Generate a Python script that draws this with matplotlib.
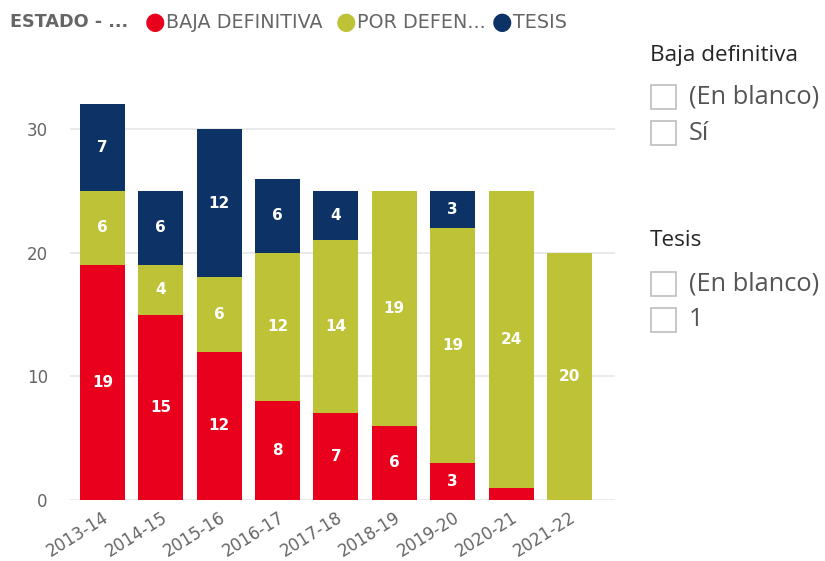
import matplotlib
matplotlib.use("Agg")
import matplotlib.pyplot as plt
from matplotlib.patches import Rectangle

years = ["2013-14", "2014-15", "2015-16", "2016-17", "2017-18", "2018-19", "2019-20", "2020-21", "2021-22"]
baja = [19, 15, 12, 8, 7, 6, 3, 1, 0]
por_defender = [6, 4, 6, 12, 14, 19, 19, 24, 20]
tesis = [7, 6, 12, 6, 4, 0, 3, 0, 0]
series_names = ["BAJA DEFINITIVA", "POR DEFEN...", "TESIS"]
colors = ["#E8001C", "#BDC236", "#0C3266"]
yticks = [0, 10, 20, 30]

W, H = 825, 561
fig = plt.figure(figsize=(W / 100, H / 100), dpi=100)
ax = fig.add_axes([70 / W, (H - 500) / H, 545 / W, 408 / H])

x = list(range(len(years)))
bw = 0.77
bottoms = [0] * len(years)
lab_font = dict(family="DejaVu Sans", fontweight="bold", fontsize=11, color="white")
for vals, col in zip([baja, por_defender, tesis], colors):
    ax.bar(x, vals, bw, bottom=bottoms, color=col, zorder=3)
    for i, v in enumerate(vals):
        if v >= 2:
            ax.text(i, bottoms[i] + v / 2, str(v), ha="center", va="center", zorder=4, **lab_font)
    bottoms = [b + v for b, v in zip(bottoms, vals)]

ax.set_xlim(-0.556, 8.78)
ax.set_ylim(0, 33)
ax.set_yticks(yticks)
ax.yaxis.grid(True, color="#E6E6E6", linewidth=1.2, zorder=0)
ax.set_axisbelow(True)
for s in ax.spines.values():
    s.set_visible(False)
ax.tick_params(axis="both", length=0)
ax.tick_params(axis="y", pad=16)
ax.set_yticklabels([str(t) for t in yticks], family="DejaVu Sans", fontsize=12, color="#666666")
ax.set_xticks(x)
ax.set_xticklabels(years, rotation=32, ha="right", rotation_mode="anchor",
                   family="DejaVu Sans", fontsize=12, color="#666666")
ax.tick_params(axis="x", pad=6)

# Legend at top
ly = 1 - 22 / H
fig.text(10 / W, ly, "ESTADO - ...", ha="left", va="center", fontsize=12.7,
         fontweight="bold", color="#666666", family="DejaVu Sans")
leg_x = [155, 346, 502]
for lx, name, col in zip(leg_x, series_names, colors):
    fig.text(lx / W, ly, "\u25CF", ha="center", va="center", fontsize=17, color=col,
             family="DejaVu Sans")
    fig.text((lx + 11) / W, ly, name, ha="left", va="center", fontsize=13.8,
             color="#666666", family="DejaVu Sans")

# Slicers on the right
slicer_font = ["Open Sans", "DejaVu Sans"]
def title(y, txt):
    fig.text(650 / W, 1 - y / H, txt, ha="left", va="center", fontsize=16.2, color="#252525",
             family=slicer_font)

def item(y, txt):
    fig.patches.append(Rectangle((651 / W, 1 - (y + 12) / H), 25 / W, 24 / H, transform=fig.transFigure,
                                 facecolor="white", edgecolor="#BDBDBD", linewidth=1.2))
    fig.text(689 / W, 1 - y / H, txt, ha="left", va="center", fontsize=18.3, color="#555555",
             family=slicer_font)

title(55, "Baja definitiva")
item(97, "(En blanco)")
item(133, "Sí")
title(241, "Tesis")
item(284, "(En blanco)")
item(320, "1")

fig.savefig("out.png", dpi=100)
